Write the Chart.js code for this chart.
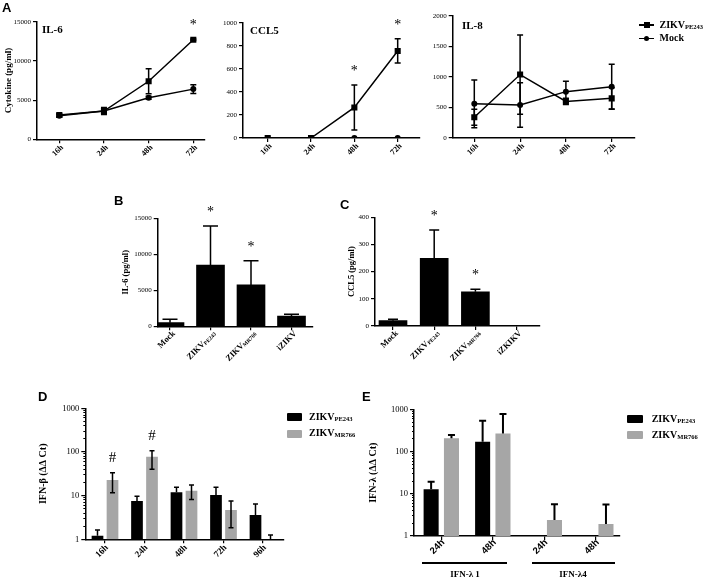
<!DOCTYPE html>
<html>
<head>
<meta charset="utf-8">
<script src="https://cdn.jsdelivr.net/npm/chart.js@4.4.1/dist/chart.umd.min.js"></script>
<style>
  body { margin: 0; width: 703px; height: 577px; background: #fff; position: relative; overflow: hidden; }
  canvas { position: absolute; }
  .t { position: absolute; white-space: nowrap; line-height: 1; font-weight: bold; color: #000; font-family: "Liberation Serif", "Times New Roman", serif; }
  .letter { font-family: "Liberation Sans", Arial, sans-serif; font-size: 13px; }
  .t sub { font-size: 0.65em; vertical-align: -0.2em; line-height: 0; }
  .box { position: absolute; }
</style>
</head>
<body>
<canvas id="il6Line"></canvas>
<canvas id="ccl5Line"></canvas>
<canvas id="il8Line"></canvas>
<canvas id="il6Bar"></canvas>
<canvas id="ccl5Bar"></canvas>
<canvas id="ifnbBar"></canvas>
<canvas id="ifnlBar"></canvas>

<div class="t letter" style="left:2px;top:1px">A</div>
<div class="t letter" style="left:114px;top:194px">B</div>
<div class="t letter" style="left:340px;top:198px">C</div>
<div class="t letter" style="left:38px;top:390px">D</div>
<div class="t letter" style="left:362px;top:390px">E</div>

<div class="t" style="left:42px;top:24px;font-size:11px">IL-6</div>
<div class="t" style="left:250px;top:25px;font-size:11px">CCL5</div>
<div class="t" style="left:462px;top:20px;font-size:11px">IL-8</div>

<div class="box" style="left:639px;top:24.3px;width:15px;height:1.5px;background:#000"></div>
<div class="box" style="left:643.5px;top:22px;width:6px;height:6px;background:#000"></div>
<div class="t" style="left:659.5px;top:20px;font-size:10px">ZIKV<sub>PE243</sub></div>
<div class="box" style="left:639px;top:37.6px;width:15px;height:1.5px;background:#000"></div>
<div class="box" style="left:644px;top:35.8px;width:5px;height:5px;border-radius:50%;background:#000"></div>
<div class="t" style="left:659.5px;top:33.3px;font-size:10px">Mock</div>

<div class="box" style="left:287px;top:413px;width:15px;height:7.5px;background:#000;border-radius:1px"></div>
<div class="t" style="left:309px;top:411.5px;font-size:10px">ZIKV<sub>PE243</sub></div>
<div class="box" style="left:287px;top:430px;width:15px;height:7.5px;background:#a6a6a6;border-radius:1px"></div>
<div class="t" style="left:309px;top:428.3px;font-size:10px">ZIKV<sub>MR766</sub></div>

<div class="box" style="left:626.7px;top:415px;width:16.5px;height:8px;background:#000;border-radius:1px"></div>
<div class="t" style="left:651.7px;top:413.6px;font-size:10px">ZIKV<sub>PE243</sub></div>
<div class="box" style="left:626.7px;top:431px;width:16.5px;height:8px;background:#a6a6a6;border-radius:1px"></div>
<div class="t" style="left:651.7px;top:429.6px;font-size:10px">ZIKV<sub>MR766</sub></div>

<div class="box" style="left:421.7px;top:561.5px;width:85px;height:2.2px;background:#000"></div>
<div class="box" style="left:531.7px;top:561.5px;width:83.3px;height:2.2px;background:#000"></div>
<div id="grp1" class="t" style="left:435px;top:569.5px;width:60px;text-align:center;font-size:9px"></div>
<div id="grp2" class="t" style="left:543px;top:569.5px;width:60px;text-align:center;font-size:9px"></div>

<script>
// ---- data ----
const hoursA = ['16h', '24h', '48h', '72h'];

const il6Zikv = [3100, 3600, 7400, 12700];
const il6ZikvErr = [200, 300, 1600, 100];
const il6Mock = [3000, 3600, 5300, 6400];
const il6MockErr = [200, 450, 200, 550];
const il6Stars = ['', '', '', '*'];

const ccl5Zikv = [0, 0, 265, 755];
const ccl5ZikvErr = [0, 0, 195, 105];
const ccl5Mock = [0, 0, 0, 0];
const ccl5Stars = ['', '', '*', '*'];

const il8Zikv = [340, 1040, 600, 650];
const il8ZikvErr = [130, 650, 50, 175];
const il8Mock = [560, 540, 760, 840];
const il8MockErr = [390, 365, 170, 370];

const groupsB = [['Mock', ''], ['ZIKV', 'PE243'], ['ZIKV', 'MR766'], ['iZIKV', '']];
const il6Bars = [500, 8500, 5750, 1430];
const il6BarsErr = [470, 5430, 3360, 240];
const il6BarStars = ['', '*', '*', ''];

const groupsC = [['Mock', ''], ['ZIKV', 'PE243'], ['ZIKV', 'MR766'], ['iZKIKV', '']];
const ccl5Bars = [19.6, 249, 126, 2];
const ccl5BarsErr = [5, 104, 9, 0];
const ccl5BarStars = ['', '*', '*', ''];

const hoursD = ['16h', '24h', '48h', '72h', '96h'];
const ifnbPE = [1.21, 7.5, 11.9, 10.3, 3.6];
const ifnbPEHi = [1.63, 9.7, 15.5, 15.5, 6.4];
const ifnbMR = [22.8, 78, 13, 4.7, 1];
const ifnbMRHi = [33.5, 107, 17.5, 7.5, 1.25];
const ifnbMRLo = [11.7, 40, 8.2, 1.85, 1];
const ifnbMarks = ['#', '#', '', '', ''];

const hoursE = ['24h', '48h', '24h', '48h'];
const ifnlPE = [12.8, 172, null, null];
const ifnlPEHi = [19.4, 540, null, null];
const ifnlMR = [207, 271, 2.4, 1.92];
const ifnlMRHi = [247, 778, 5.7, 5.6];
const ifnlGroups = ['IFN-λ 1', 'IFN-λ4'];

const logTicks = [1, 10, 100, 1000];
const logMinor = [];
[1, 10, 100].forEach((d) => { for (let k = 2; k <= 9; k++) logMinor.push(d * k); });

// ---- plugins ----
const errorBars = {
  id: 'errorBars',
  afterDatasetsDraw(chart) {
    const ctx = chart.ctx;
    const y = chart.scales.y;
    chart.data.datasets.forEach((ds, di) => {
      if (!ds.hi) return;
      const meta = chart.getDatasetMeta(di);
      ctx.save();
      ctx.strokeStyle = '#000';
      ctx.lineWidth = ds.errWidth || 1.5;
      meta.data.forEach((el, i) => {
        const v = ds.data[i] && ds.data[i].y;
        if (ds.hi[i] == null || v == null) return;
        const hasLo = ds.lo && ds.lo[i] < v;
        if (ds.hi[i] <= v && !hasLo) return;
        const top = y.getPixelForValue(ds.hi[i]);
        const bot = hasLo ? y.getPixelForValue(ds.lo[i]) : el.y;
        const c = ds.cap / 2;
        ctx.beginPath();
        ctx.moveTo(el.x, bot);
        ctx.lineTo(el.x, top);
        ctx.moveTo(el.x - c, top);
        ctx.lineTo(el.x + c, top);
        if (hasLo) {
          ctx.moveTo(el.x - c, bot);
          ctx.lineTo(el.x + c, bot);
        }
        ctx.stroke();
      });
      ctx.restore();
    });
  }
};

const marks = {
  id: 'marks',
  afterDatasetsDraw(chart) {
    const ctx = chart.ctx;
    const y = chart.scales.y;
    chart.data.datasets.forEach((ds, di) => {
      if (!ds.marks) return;
      const meta = chart.getDatasetMeta(di);
      meta.data.forEach((el, i) => {
        const m = ds.marks[i];
        if (!m) return;
        const top = ds.hi && ds.hi[i] != null ? Math.min(el.y, y.getPixelForValue(ds.hi[i])) : el.y;
        const hash = m === '#';
        const fs = hash ? 15 : 14;
        const cy = top - (hash ? 16 : 17);
        ctx.save();
        ctx.fillStyle = '#000';
        ctx.font = `${fs}px "Liberation Serif"`;
        ctx.textAlign = 'center';
        ctx.textBaseline = 'alphabetic';
        ctx.fillText(m, el.x, cy + fs * (hash ? 0.34 : 0.5));
        ctx.restore();
      });
    });
  }
};

const xLabels = {
  id: 'xLabels',
  afterDraw(chart) {
    const o = chart.options.plugins.xLabels;
    if (!o) return;
    const x = chart.scales.x;
    const ctx = chart.ctx;
    o.labels.forEach((lab, i) => {
      const [main, sub] = Array.isArray(lab) ? lab : [lab, ''];
      ctx.save();
      ctx.translate(x.getPixelForValue(i) + o.dx, x.top + o.dy);
      ctx.rotate(-Math.PI / 4);
      ctx.fillStyle = '#000';
      ctx.textBaseline = 'middle';
      ctx.textAlign = 'left';
      ctx.font = o.subFont || o.font;
      const ws = sub ? ctx.measureText(sub).width : 0;
      ctx.font = o.font;
      const wm = ctx.measureText(main).width;
      ctx.fillText(main, -wm - ws, 0);
      if (sub) {
        ctx.font = o.subFont;
        ctx.fillText(sub, -ws, 1.5);
      }
      ctx.restore();
    });
  }
};

// ---- helpers ----
Chart.defaults.font.family = '"Liberation Serif", "Times New Roman", serif';
Chart.defaults.color = '#000';

const TICK_GRID = { display: true, drawOnChartArea: false, drawTicks: true, tickLength: 4, color: '#000', lineWidth: 1.2, offset: false };
const AXIS_BORDER = { display: true, color: '#000', width: 1.5 };

function xAxis(n, box) {
  return {
    type: 'linear', offset: false,
    min: (box.l - box.c0) / box.sp, max: (box.r - box.c0) / box.sp,
    afterBuildTicks: (s) => { s.ticks = Array.from({ length: n }, (_, i) => ({ value: i })); },
    ticks: { display: false },
    grid: { ...TICK_GRID }, border: { ...AXIS_BORDER },
    afterFit: (s) => { s.height = box.xH; }
  };
}

function yTitle(text, size) {
  if (!text) return { display: false };
  return { display: true, text, padding: 0, color: '#000', font: { size, weight: 'bold' } };
}

function yLinear(max, step, box, title, titleSize) {
  return {
    type: 'linear', min: 0, max, weight: 1,
    ticks: { stepSize: step, padding: 2, font: { size: 7 }, callback: (v) => String(v) },
    grid: { ...TICK_GRID }, border: { ...AXIS_BORDER },
    title: yTitle(title, titleSize),
    afterFit: (s) => { s.width = box.yW; }
  };
}

function yLog(box, title) {
  return {
    type: 'logarithmic', min: 1, max: 1000, weight: 1,
    afterBuildTicks: (s) => { s.ticks = logTicks.map((v) => ({ value: v })); },
    ticks: { padding: 2, font: { size: 8.5 }, callback: (v) => String(v) },
    grid: { ...TICK_GRID }, border: { ...AXIS_BORDER },
    title: yTitle(title, 10),
    afterFit: (s) => { s.width = box.yW; }
  };
}

function yLogMinor() {
  return {
    type: 'logarithmic', position: 'left', min: 1, max: 1000, weight: 0,
    afterBuildTicks: (s) => { s.ticks = logMinor.map((v) => ({ value: v })); },
    ticks: { display: false },
    grid: { ...TICK_GRID, tickLength: 2, lineWidth: 1 }, border: { display: false },
    afterFit: (s) => { s.width = 0; }
  };
}

function place(id, box, config) {
  const padL = 2, padT = 22, padR = 12, padB = 4;
  const left = Math.round(box.l - box.yW - padL);
  const top = Math.round(box.t - padT);
  const width = Math.round(box.r + padR) - left;
  const height = Math.round(box.b + box.xH + padB) - top;
  const canvas = document.getElementById(id);
  canvas.style.left = left + 'px';
  canvas.style.top = top + 'px';
  canvas.width = width;
  canvas.height = height;
  config.options.layout = {
    padding: {
      left: box.l - box.yW - left,
      top: box.t - top,
      right: left + width - box.r,
      bottom: top + height - box.b - box.xH
    }
  };
  config.options.responsive = false;
  config.options.animation = false;
  config.options.devicePixelRatio = 1;
  config.options.plugins = Object.assign({ legend: { display: false }, tooltip: { enabled: false } }, config.options.plugins || {});
  config.plugins = [errorBars, marks, xLabels];
  return new Chart(canvas, config);
}

const pts = (vals) => vals.map((v, i) => ({ x: i, y: v }));
const plus = (vals, err) => vals.map((v, i) => (v == null ? null : v + err[i]));
const minus = (vals, err) => vals.map((v, i) => (v == null ? null : v - err[i]));

function lineSet(vals, err, style, radius, stars) {
  return {
    data: pts(vals), hi: plus(vals, err), lo: minus(vals, err), marks: stars,
    borderColor: '#000', backgroundColor: '#000', borderWidth: 1.5,
    pointStyle: style, pointRadius: radius, pointBorderWidth: 0, cap: 6
  };
}

function lineChart(id, box, labels, zikv, zikvErr, mock, mockErr, stars, yMax, yStep, title) {
  place(id, box, {
    type: 'line',
    data: { datasets: [lineSet(mock, mockErr, 'circle', 3, null), lineSet(zikv, zikvErr, 'rect', 4.3, stars)] },
    options: {
      scales: { x: xAxis(labels.length, box), y: yLinear(yMax, yStep, box, title, 9) },
      plugins: { xLabels: { labels, font: 'bold 8px "Liberation Serif"', dx: 3, dy: 7 } }
    }
  });
}

// ---- panel A ----
lineChart('il6Line', { l: 37, t: 21.7, r: 205, b: 139.3, c0: 59.3, sp: 44.67, yW: 34, xH: 30 },
  hoursA, il6Zikv, il6ZikvErr, il6Mock, il6MockErr, il6Stars, 15000, 5000, 'Cytokine (pg/ml)');
lineChart('ccl5Line', { l: 243, t: 22.7, r: 420, b: 138, c0: 267.7, sp: 43.33, yW: 25, xH: 30 },
  hoursA, ccl5Zikv, ccl5ZikvErr, ccl5Mock, ccl5Mock, ccl5Stars, 1000, 200, '');
lineChart('il8Line', { l: 452.7, t: 16, r: 635, b: 138, c0: 474.3, sp: 45.8, yW: 25, xH: 30 },
  hoursA, il8Zikv, il8ZikvErr, il8Mock, il8MockErr, null, 2000, 500, '');

// ---- panels B and C ----
function barChart(id, box, labels, vals, err, stars, yMax, yStep, title, cap) {
  place(id, box, {
    type: 'bar',
    data: {
      datasets: [{
        data: pts(vals), hi: plus(vals, err), marks: stars, cap,
        backgroundColor: '#000', barThickness: 28
      }]
    },
    options: {
      scales: { x: xAxis(labels.length, box), y: yLinear(yMax, yStep, box, title, 8.5) },
      plugins: { xLabels: { labels, font: 'bold 8.5px "Liberation Serif"', subFont: 'bold 5.5px "Liberation Serif"', dx: 4, dy: 6 } }
    }
  });
}

barChart('il6Bar', { l: 157.7, t: 218.3, r: 312.7, b: 326.3, c0: 170, sp: 40.5, yW: 37, xH: 45 },
  groupsB, il6Bars, il6BarsErr, il6BarStars, 15000, 5000, 'IL-6 (pg/ml)', 15);
barChart('ccl5Bar', { l: 375, t: 217.3, r: 540, b: 326, c0: 393, sp: 41.2, yW: 28, xH: 45 },
  groupsC, ccl5Bars, ccl5BarsErr, ccl5BarStars, 400, 100, 'CCL5 (pg/ml)', 10);

// ---- panels D and E ----
function logBars(id, box, labels, sets, title, labelFont, dx, dy) {
  place(id, box, {
    type: 'bar',
    data: { datasets: sets },
    options: {
      scales: { x: xAxis(labels.length, box), y: yLog(box, title), yMinor: yLogMinor() },
      plugins: { xLabels: { labels, font: labelFont, dx, dy } }
    }
  });
}

logBars('ifnbBar', { l: 85.3, t: 408.3, r: 283.3, b: 539.3, c0: 105, sp: 39.5, yW: 48, xH: 30 }, hoursD, [
  { data: pts(ifnbPE), hi: ifnbPEHi, cap: 5, backgroundColor: '#000', categoryPercentage: 0.76, barPercentage: 0.78 },
  { data: pts(ifnbMR), hi: ifnbMRHi, lo: ifnbMRLo, marks: ifnbMarks, cap: 5, backgroundColor: '#a6a6a6', categoryPercentage: 0.76, barPercentage: 0.78 }
], 'IFN-β (ΔΔ Ct)', 'bold 9px "Liberation Serif"', 2, 7);

logBars('ifnlBar', { l: 414, t: 409.5, r: 620, b: 536, c0: 441.3, sp: 51.5, yW: 47, xH: 24 }, hoursE, [
  { data: pts(ifnlPE), hi: ifnlPEHi, cap: 7, errWidth: 2, backgroundColor: '#000', categoryPercentage: 0.79, barPercentage: 0.74 },
  { data: pts(ifnlMR), hi: ifnlMRHi, cap: 7, errWidth: 2, backgroundColor: '#a6a6a6', categoryPercentage: 0.79, barPercentage: 0.74 }
], 'IFN-λ (ΔΔ Ct)', 'bold 9.5px "Liberation Sans"', 2, 5);

document.getElementById('grp1').textContent = ifnlGroups[0];
document.getElementById('grp2').textContent = ifnlGroups[1];
</script>
</body>
</html>
